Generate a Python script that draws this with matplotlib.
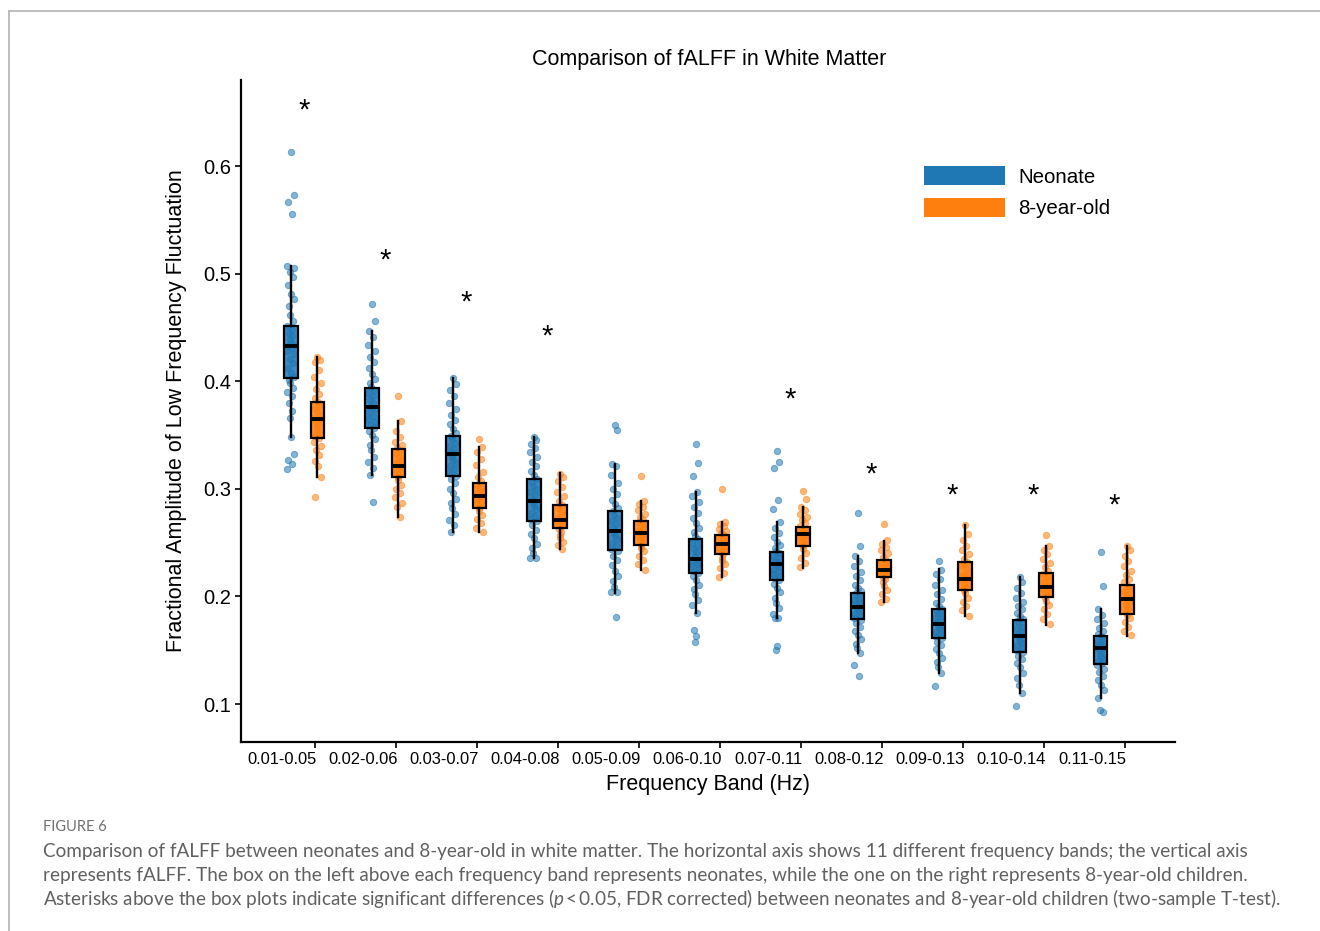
import matplotlib
matplotlib.use("Agg")
import matplotlib.pyplot as plt
from matplotlib.patches import Patch
from matplotlib.lines import Line2D

# ---------------- data ----------------
bands = ["0.01-0.05", "0.02-0.06", "0.03-0.07", "0.04-0.08", "0.05-0.09", "0.06-0.10",
         "0.07-0.11", "0.08-0.12", "0.09-0.13", "0.10-0.14", "0.11-0.15"]
groups = ["Neonate", "8-year-old"]

# box statistics
neo_q1 = [0.403, 0.357, 0.312, 0.270, 0.243, 0.222, 0.215, 0.179, 0.161, 0.148, 0.137]
neo_med = [0.433, 0.376, 0.332, 0.289, 0.261, 0.2345, 0.230, 0.1905, 0.174, 0.1635, 0.1517]
neo_q3 = [0.451, 0.394, 0.349, 0.309, 0.279, 0.253, 0.2416, 0.2035, 0.188, 0.178, 0.1635]
neo_lo = [0.348, 0.313, 0.260, 0.236, 0.2035, 0.185, 0.1796, 0.147, 0.129, 0.110, 0.106]
neo_hi = [0.507, 0.447, 0.403, 0.348, 0.323, 0.297, 0.2694, 0.238, 0.2253, 0.2177, 0.188]

old_q1 = [0.3475, 0.311, 0.2824, 0.2633, 0.2475, 0.239, 0.2473, 0.2183, 0.206, 0.1992, 0.1836]
old_med = [0.3646, 0.321, 0.2933, 0.2707, 0.2587, 0.249, 0.258, 0.2245, 0.2159, 0.2085, 0.1976]
old_q3 = [0.381, 0.337, 0.305, 0.2852, 0.2698, 0.257, 0.2642, 0.2338, 0.2323, 0.2215, 0.2106]
old_lo = [0.311, 0.274, 0.260, 0.2438, 0.2245, 0.218, 0.2264, 0.1951, 0.1818, 0.1734, 0.1635]
old_hi = [0.423, 0.363, 0.339, 0.3144, 0.2887, 0.269, 0.2828, 0.2518, 0.2664, 0.2471, 0.2471]

# individual subjects
neo_points = [
    [0.613, 0.573, 0.567, 0.555, 0.507, 0.505, 0.502, 0.497, 0.489, 0.481, 0.476, 0.470, 0.462, 0.456,
     0.451, 0.448, 0.445, 0.442, 0.439, 0.436, 0.434, 0.433, 0.431, 0.428, 0.425, 0.421, 0.417, 0.412,
     0.408, 0.404, 0.401, 0.398, 0.394, 0.390, 0.386, 0.380, 0.372, 0.366, 0.348, 0.332, 0.327, 0.323, 0.318],
    [0.472, 0.456, 0.447, 0.441, 0.434, 0.428, 0.423, 0.418, 0.412, 0.407, 0.402, 0.398, 0.395, 0.392,
     0.389, 0.386, 0.383, 0.380, 0.377, 0.376, 0.374, 0.371, 0.368, 0.365, 0.362, 0.359, 0.357, 0.354,
     0.350, 0.346, 0.341, 0.336, 0.330, 0.325, 0.319, 0.313, 0.288],
    [0.403, 0.397, 0.392, 0.386, 0.380, 0.374, 0.369, 0.364, 0.360, 0.356, 0.352, 0.349, 0.346, 0.343,
     0.340, 0.337, 0.334, 0.332, 0.330, 0.327, 0.324, 0.321, 0.318, 0.315, 0.312, 0.309, 0.305, 0.300,
     0.296, 0.291, 0.287, 0.282, 0.277, 0.271, 0.266, 0.260],
    [0.348, 0.345, 0.342, 0.338, 0.334, 0.330, 0.325, 0.321, 0.317, 0.313, 0.309, 0.306, 0.303, 0.300,
     0.297, 0.294, 0.291, 0.289, 0.287, 0.284, 0.281, 0.278, 0.275, 0.272, 0.270, 0.266, 0.262, 0.258,
     0.254, 0.249, 0.245, 0.240, 0.236, 0.236],
    [0.359, 0.355, 0.323, 0.321, 0.313, 0.305, 0.300, 0.295, 0.290, 0.286, 0.282, 0.279, 0.276, 0.273,
     0.270, 0.267, 0.264, 0.261, 0.259, 0.256, 0.253, 0.250, 0.247, 0.244, 0.242, 0.238, 0.234, 0.229,
     0.224, 0.219, 0.214, 0.209, 0.204, 0.204, 0.181],
    [0.342, 0.324, 0.312, 0.297, 0.293, 0.288, 0.283, 0.278, 0.273, 0.268, 0.264, 0.260, 0.256, 0.253,
     0.250, 0.247, 0.244, 0.241, 0.238, 0.235, 0.234, 0.232, 0.230, 0.228, 0.226, 0.224, 0.222, 0.219,
     0.215, 0.211, 0.207, 0.202, 0.197, 0.192, 0.185, 0.169, 0.163, 0.158],
    [0.335, 0.325, 0.319, 0.290, 0.281, 0.269, 0.264, 0.259, 0.255, 0.251, 0.248, 0.245, 0.242, 0.240,
     0.238, 0.236, 0.234, 0.232, 0.230, 0.229, 0.227, 0.225, 0.223, 0.221, 0.219, 0.217, 0.215, 0.212,
     0.208, 0.204, 0.199, 0.194, 0.189, 0.184, 0.180, 0.180, 0.154, 0.150],
    [0.278, 0.247, 0.238, 0.233, 0.228, 0.223, 0.219, 0.215, 0.211, 0.208, 0.205, 0.203, 0.201, 0.199,
     0.197, 0.195, 0.193, 0.191, 0.190, 0.188, 0.186, 0.184, 0.182, 0.180, 0.178, 0.175, 0.172, 0.168,
     0.164, 0.160, 0.156, 0.152, 0.147, 0.136, 0.126],
    [0.233, 0.225, 0.221, 0.216, 0.211, 0.206, 0.202, 0.198, 0.194, 0.191, 0.188, 0.186, 0.184, 0.182,
     0.180, 0.178, 0.176, 0.174, 0.173, 0.171, 0.169, 0.167, 0.165, 0.163, 0.161, 0.158, 0.155, 0.151,
     0.147, 0.143, 0.139, 0.134, 0.129, 0.117],
    [0.218, 0.213, 0.208, 0.203, 0.199, 0.195, 0.191, 0.188, 0.185, 0.182, 0.179, 0.177, 0.175, 0.172,
     0.170, 0.168, 0.165, 0.163, 0.161, 0.159, 0.157, 0.155, 0.152, 0.150, 0.148, 0.145, 0.142, 0.138,
     0.134, 0.129, 0.124, 0.118, 0.110, 0.098],
    [0.241, 0.210, 0.188, 0.183, 0.179, 0.175, 0.171, 0.168, 0.165, 0.163, 0.161, 0.159, 0.157, 0.155,
     0.153, 0.152, 0.150, 0.148, 0.146, 0.144, 0.142, 0.140, 0.138, 0.136, 0.133, 0.130, 0.126, 0.122,
     0.118, 0.113, 0.106, 0.094, 0.093],
]
old_points = [
    [0.423, 0.420, 0.418, 0.410, 0.404, 0.398, 0.393, 0.388, 0.384, 0.381, 0.378, 0.375, 0.372, 0.369,
     0.366, 0.365, 0.363, 0.361, 0.358, 0.355, 0.352, 0.349, 0.347, 0.344, 0.340, 0.336, 0.331, 0.326,
     0.321, 0.311, 0.292],
    [0.386, 0.363, 0.354, 0.348, 0.344, 0.341, 0.338, 0.336, 0.333, 0.330, 0.327, 0.324, 0.322, 0.321,
     0.319, 0.317, 0.315, 0.313, 0.311, 0.308, 0.304, 0.300, 0.296, 0.292, 0.287, 0.283, 0.274],
    [0.346, 0.339, 0.334, 0.328, 0.322, 0.316, 0.311, 0.307, 0.304, 0.301, 0.298, 0.296, 0.294, 0.293,
     0.291, 0.289, 0.287, 0.285, 0.282, 0.279, 0.276, 0.272, 0.268, 0.264, 0.260],
    [0.314, 0.311, 0.307, 0.302, 0.297, 0.293, 0.289, 0.285, 0.282, 0.279, 0.276, 0.273, 0.271, 0.269,
     0.267, 0.265, 0.263, 0.260, 0.257, 0.254, 0.251, 0.248, 0.244],
    [0.312, 0.289, 0.286, 0.283, 0.280, 0.277, 0.274, 0.271, 0.269, 0.267, 0.264, 0.262, 0.260, 0.258,
     0.256, 0.254, 0.252, 0.250, 0.248, 0.245, 0.242, 0.238, 0.234, 0.230, 0.225],
    [0.300, 0.269, 0.267, 0.265, 0.263, 0.261, 0.259, 0.257, 0.255, 0.253, 0.251, 0.250, 0.249, 0.247,
     0.245, 0.243, 0.241, 0.239, 0.236, 0.233, 0.230, 0.226, 0.222, 0.218],
    [0.298, 0.291, 0.283, 0.280, 0.277, 0.274, 0.271, 0.268, 0.265, 0.263, 0.261, 0.259, 0.258, 0.257,
     0.255, 0.253, 0.251, 0.249, 0.247, 0.244, 0.240, 0.236, 0.231, 0.227],
    [0.267, 0.252, 0.249, 0.246, 0.243, 0.240, 0.237, 0.234, 0.232, 0.230, 0.228, 0.226, 0.225, 0.224,
     0.222, 0.220, 0.218, 0.216, 0.213, 0.210, 0.206, 0.202, 0.198, 0.195],
    [0.266, 0.258, 0.252, 0.247, 0.243, 0.239, 0.235, 0.232, 0.229, 0.226, 0.223, 0.220, 0.218, 0.216,
     0.214, 0.212, 0.210, 0.208, 0.206, 0.203, 0.199, 0.195, 0.191, 0.187, 0.182],
    [0.257, 0.247, 0.243, 0.239, 0.235, 0.231, 0.227, 0.224, 0.221, 0.218, 0.215, 0.213, 0.211, 0.209,
     0.207, 0.205, 0.203, 0.201, 0.199, 0.196, 0.192, 0.188, 0.184, 0.179, 0.174],
    [0.247, 0.243, 0.238, 0.233, 0.228, 0.224, 0.220, 0.216, 0.213, 0.210, 0.207, 0.204, 0.201, 0.199,
     0.197, 0.195, 0.192, 0.189, 0.186, 0.183, 0.180, 0.176, 0.172, 0.168, 0.164],
]

# significance markers (None = not significant)
star_y = [0.652, 0.512, 0.473, 0.442, None, None, 0.383, 0.313, 0.294, 0.294, 0.284]

yticks = [0.1, 0.2, 0.3, 0.4, 0.5, 0.6]

# ---------------- style ----------------
BLUE = "#1f77b4"
ORANGE = "#ff7f0e"
NEO_OFF = -0.30
OLD_OFF = 0.03
LABEL_OFF = -0.405
BOX_W = 0.17
jitter = [0.0, 0.035, -0.03, 0.015, -0.045, 0.045, -0.015, 0.025, -0.035, 0.005,
          0.04, -0.025, -0.005, 0.03, -0.04, 0.02, -0.02, 0.01, -0.01]

plt.rcParams["font.family"] = ["Liberation Sans", "DejaVu Sans"]
plt.rcParams["mathtext.fontset"] = "custom"
plt.rcParams["mathtext.it"] = "Lato:italic"

fig = plt.figure(figsize=(13.2, 9.31), dpi=100)
ax = fig.add_axes([241 / 1320, 1 - 742 / 931, (1175 - 241) / 1320, (742 - 80) / 931])

def stats(q1, med, q3, lo, hi):
    return [dict(q1=a, med=b, q3=c, whislo=d, whishi=e, fliers=[]) for a, b, c, d, e in zip(q1, med, q3, lo, hi)]

n = len(bands)
for pts_list, st, off, col in [
    (neo_points, stats(neo_q1, neo_med, neo_q3, neo_lo, neo_hi), NEO_OFF, BLUE),
    (old_points, stats(old_q1, old_med, old_q3, old_lo, old_hi), OLD_OFF, ORANGE),
]:
    for i, pts in enumerate(pts_list):
        xs = [i + off + jitter[k % len(jitter)] for k in range(len(pts))]
        ax.scatter(xs, pts, s=21, color=col, alpha=0.55, edgecolors=col, linewidths=0.7, zorder=2)
    pos = [i + off for i in range(n)]
    ax.bxp(st, positions=pos, widths=BOX_W, showcaps=False, showfliers=False, patch_artist=True,
           boxprops=dict(facecolor=matplotlib.colors.to_rgba(col, 0.85), edgecolor="black", linewidth=1.6),
           whiskerprops=dict(color="black", linewidth=1.7),
           medianprops=dict(color="black", linewidth=2.8, solid_capstyle="butt"),
           manage_ticks=False, zorder=3)

for i, y in enumerate(star_y):
    if y is not None:
        ax.text(i - 0.135, y, "*", ha="center", va="center", fontsize=21, color="black")

ax.set_xlim(-0.914, 10.62)
ax.set_ylim(0.0647, 0.68)
# tick marks at the band positions, labels drawn slightly to the left (as in the original)
ax.set_xticks(range(n))
ax.set_xticklabels([""] * n)
ax.set_xticks([i + LABEL_OFF for i in range(n)], minor=True)
ax.set_xticklabels(bands, minor=True, fontsize=11.9)
ax.tick_params(axis="x", which="minor", length=0, pad=7)
ax.set_yticks(yticks)
ax.set_yticklabels([f"{t:.1f}" for t in yticks], fontsize=14.5)
ax.tick_params(axis="both", which="major", direction="out", length=4, width=1.2, color="black")
ax.tick_params(axis="y", pad=3)
for s in ["top", "right"]:
    ax.spines[s].set_visible(False)
for s in ["left", "bottom"]:
    ax.spines[s].set_linewidth(1.6)

ax.set_xlabel("Frequency Band (Hz)", fontsize=15.5, labelpad=5)
ax.set_ylabel("Fractional Amplitude of Low Frequency Fluctuation", fontsize=15.5, labelpad=12)
fig.text(709 / 1320, 1 - 60 / 931, "Comparison of fALFF in White Matter", ha="center", va="center", fontsize=15.5)

handles = [Patch(facecolor=BLUE, edgecolor="none", label=groups[0]),
           Patch(facecolor=ORANGE, edgecolor="none", label=groups[1])]
fig.legend(handles=handles, loc="upper left", bbox_to_anchor=(924 / 1320, 1 - 166 / 931),
           frameon=False, fontsize=14.8, handlelength=3.95, handleheight=1.05,
           handletextpad=0.62, labelspacing=0.55, borderpad=0, borderaxespad=0)

# panel border of the published figure
fig.add_artist(Line2D([9 / 1320, 9 / 1320], [0, 1 - 11 / 931], transform=fig.transFigure, color="#b8b8b8", lw=1.3))
fig.add_artist(Line2D([9 / 1320, 1], [1 - 11 / 931, 1 - 11 / 931], transform=fig.transFigure, color="#b8b8b8", lw=1.3))

# caption
cap_font = ["Lato", "DejaVu Sans"]
fig.text(43 / 1320, 1 - 827 / 931, "FIGURE 6", ha="left", va="center", fontsize=10.5, color="#707070", family=cap_font)
cap_lines = [
    "Comparison of fALFF between neonates and 8-year-old in white matter. The horizontal axis shows 11 different frequency bands; the vertical axis",
    "represents fALFF. The box on the left above each frequency band represents neonates, while the one on the right represents 8-year-old children.",
    "Asterisks above the box plots indicate significant differences ($p$\u2009<\u20090.05, FDR corrected) between neonates and 8-year-old children (two-sample T-test).",
]
for k, line in enumerate(cap_lines):
    fig.text(43 / 1320, 1 - (851 + 24 * k) / 931, line, ha="left", va="center", fontsize=13.55,
             color="#616161", family=cap_font)

fig.savefig("out.png", dpi=100)
